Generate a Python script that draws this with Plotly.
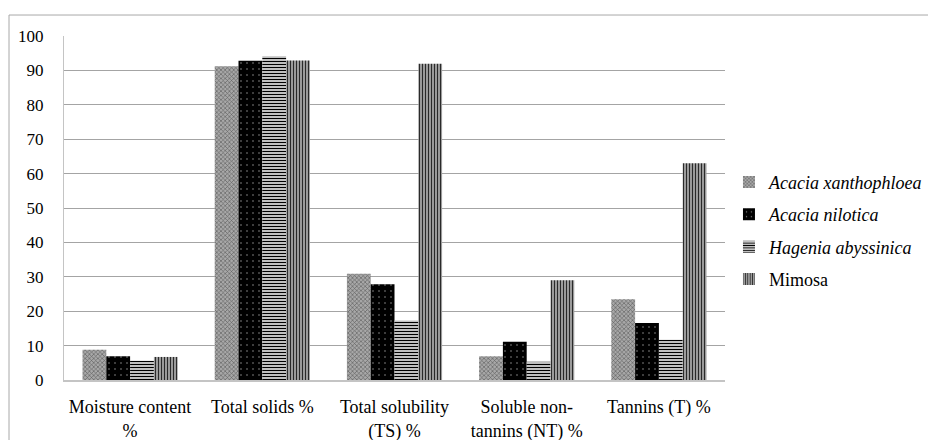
import plotly.graph_objects as go

categories = ["Moisture content<br>%", "Total solids %", "Total solubility<br>(TS) %",
              "Soluble non-<br>tannins (NT) %", "Tannins (T) %"]
series_names = ["<i>Acacia xanthophloea</i>", "<i>Acacia nilotica</i>",
                "<i>Hagenia abyssinica</i>", "Mimosa"]
xanthophloea = [8.8, 91.2, 30.9, 6.9, 23.5]
nilotica = [6.9, 92.8, 27.8, 11.1, 16.6]
hagenia = [5.6, 94.1, 17.3, 5.3, 11.7]
mimosa = [6.7, 92.9, 91.9, 29.0, 63.0]
y_ticks = [0, 10, 20, 30, 40, 50, 60, 70, 80, 90, 100]

styles = [
    dict(color="#8c8c8c", pattern=dict(shape="x", size=3, solidity=0.35, fgcolor="#5a5a5a", bgcolor="#a8a8a8", fillmode="replace")),
    dict(color="#000000", pattern=dict(shape=".", size=6, solidity=0.06, fgcolor="#8a8a8a", bgcolor="#000000", fillmode="replace")),
    dict(color="#ffffff", pattern=dict(shape="-", size=3, solidity=0.5, fgcolor="#000000", bgcolor="#ffffff", fillmode="replace")),
    dict(color="#808080", pattern=dict(shape="|", size=3, solidity=0.5, fgcolor="#2a2a2a", bgcolor="#c0c0c0", fillmode="replace")),
]

fig = go.Figure()
for i, (name, vals) in enumerate(zip(series_names, [xanthophloea, nilotica, hagenia, mimosa])):
    fig.add_trace(go.Bar(
        x=categories, y=vals, name=name, legendgroup=str(i),
        marker=dict(color=styles[i]["color"], pattern=styles[i]["pattern"], line=dict(width=0)),
    ))

font = "Liberation Serif"
fig.update_layout(
    width=936, height=440,
    margin=dict(l=56, r=219, t=28, b=68, autoexpand=False),
    paper_bgcolor="white", plot_bgcolor="white",
    barmode="group", bargap=0.28, bargroupgap=0,
    font=dict(family=font, size=18, color="#000000"),
    showlegend=True,
    legend=dict(x=1.006, y=0.434, xanchor="left", yanchor="middle",
                traceorder="grouped", tracegroupgap=6,
                font=dict(family=font, size=18, color="#000000"),
                itemwidth=30, bgcolor="rgba(0,0,0,0)"),
    shapes=[dict(type="rect", xref="paper", yref="paper",
                 x0=-0.0832, x1=1.33, y0=-0.25, y1=1.061,
                 line=dict(color="#a8a8a8", width=1), fillcolor="rgba(0,0,0,0)", layer="below")],
)
fig.update_xaxes(showgrid=False, showline=True, linecolor="#c4c4c4", linewidth=1.5,
                 automargin=False, tickangle=0,
                 ticks="", ticklabelstandoff=10, tickfont=dict(family=font, size=18))
fig.update_yaxes(range=[0, 100], tickvals=y_ticks, showgrid=True, gridcolor="#a4a4a4", gridwidth=1,
                 showline=True, linecolor="#c4c4c4", linewidth=1, zeroline=False, automargin=False,
                 ticks="", ticklabelstandoff=16, tickfont=dict(family=font, size=17))

fig.write_html("out.html")
